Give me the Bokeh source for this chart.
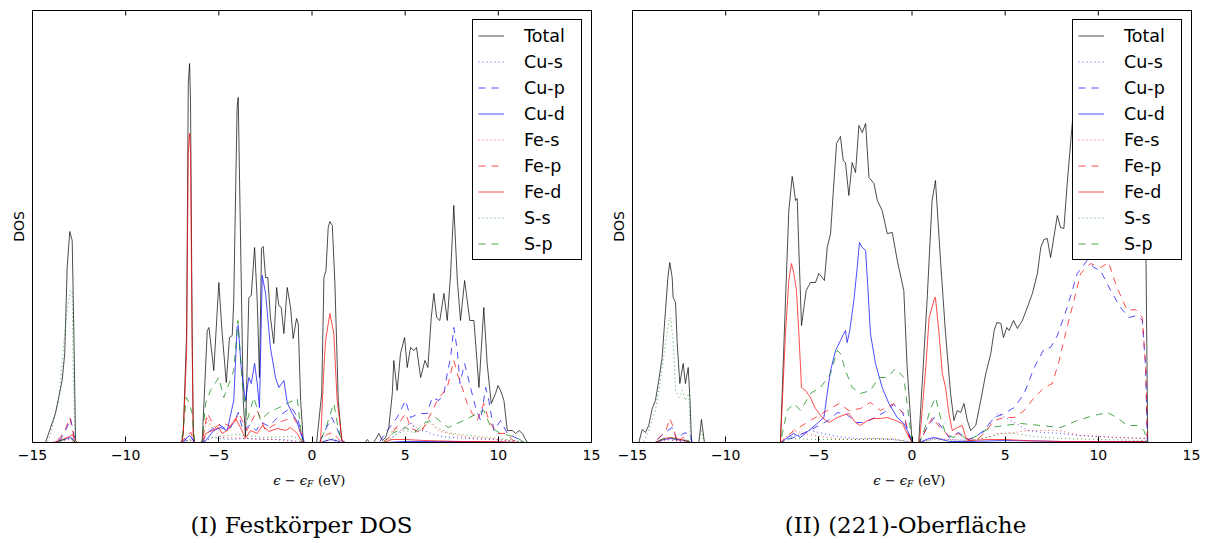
import math
from bokeh.plotting import figure
from bokeh.layouts import row, column
from bokeh.models import Range1d, FixedTicker, Label, Legend
from bokeh.embed import file_html
from bokeh.resources import INLINE

# ---------------- data (energy in eV, DOS in arbitrary units) ----------------
series_labels = ["Total", "Cu-s", "Cu-p", "Cu-d", "Fe-s", "Fe-p", "Fe-d", "S-s", "S-p"]
xtick_values = [-15, -10, -5, 0, 5, 10, 15]
xtick_labels = ["\u221215", "\u221210", "\u22125", "0", "5", "10", "15"]
captions = ["(I) Festk\u00f6rper DOS", "(II) (221)-Oberfl\u00e4che"]

# ---- (I) bulk ----
bulk_total = [(-15, 0), (-14.3, 0), (-13.77, 2.9), (-13.41, 6.2), (-13.27, 8.9), (-13.14, 17.5), (-13.0, 21.1),
              (-12.87, 20.2), (-12.78, 10.9), (-12.69, 0.2), (-12.6, 0), (-7.0, 0), (-6.91, 0.9), (-6.73, 10.9),
              (-6.64, 35.9), (-6.57, 37.9), (-6.52, 34.2), (-6.43, 10.9), (-6.37, 0.9), (-6.3, 0), (-5.95, 0),
              (-5.89, 0.2), (-5.62, 11.2), (-5.53, 11.5), (-5.27, 7.2), (-5.0, 16.0), (-4.82, 10.9), (-4.6, 6.0),
              (-4.43, 10.5), (-4.28, 10.7), (-4.2, 14.2), (-4.02, 33.5), (-3.96, 34.5), (-3.84, 20.9), (-3.69, 4.2),
              (-3.57, 0.6), (-3.39, 14.5), (-3.26, 14.7), (-3.08, 19.5), (-2.94, 14.2), (-2.82, 6.5), (-2.71, 19.4),
              (-2.62, 19.6), (-2.49, 16.5), (-2.37, 16.5), (-2.23, 12.5), (-2.05, 9.9), (-1.9, 15.5), (-1.78, 13.7),
              (-1.65, 13.5), (-1.51, 10.9), (-1.33, 15.5), (-1.15, 13.5), (-1.01, 10.4), (-0.83, 12.4), (-0.74, 11.9),
              (-0.61, 4.2), (-0.47, 0.2), (-0.4, 0), (0.25, 0), (0.52, 4.9), (0.64, 16.5), (0.75, 17.2), (0.87, 21.5),
              (0.96, 22.1), (1.09, 21.7), (1.23, 15.9), (1.41, 4.2), (1.59, 0.2), (1.7, 0), (2.85, 0), (2.97, 0.3),
              (3.1, 0), (3.3, 0), (3.41, 0.3), (3.59, 0.9), (3.77, 0.2), (3.95, 0.5), (4.12, 1.5), (4.31, 4.9),
              (4.39, 8.2), (4.57, 5.2), (4.75, 8.9), (4.97, 10.5), (5.11, 7.5), (5.29, 9.5), (5.47, 9.2), (5.61, 9.5),
              (5.83, 6.5), (6.06, 8.2), (6.22, 7.5), (6.4, 12.5), (6.54, 14.9), (6.69, 12.5), (6.86, 12.2), (7.08, 14.9),
              (7.26, 12.2), (7.44, 16.9), (7.61, 23.7), (7.8, 16.2), (7.97, 12.2), (8.19, 16.2), (8.33, 14.2),
              (8.47, 12.2), (8.69, 12.2), (8.96, 5.5), (9.22, 13.5), (9.4, 7.9), (9.62, 3.9), (9.85, 4.9), (9.98, 5.7),
              (10.12, 5.2), (10.3, 4.2), (10.48, 1.2), (10.75, 1.2), (10.93, 0.9), (11.11, 1.2), (11.29, 0.9),
              (11.55, 0), (15, 0)]
bulk_cu_s = [(-15, 0), (-13.8, 0), (-13.2, 0.3), (-12.9, 0.4), (-12.7, 0), (-6.9, 0), (-6.6, 0.3), (-6.3, 0),
             (-5.9, 0), (-5.3, 0.5), (-4.5, 0.3), (-3.5, 0.4), (-2.5, 0.3), (-1.5, 0.3), (-0.4, 0), (0.5, 0),
             (1.0, 0.3), (1.5, 0), (4.0, 0), (4.5, 0.8), (5.0, 1.5), (5.3, 2.0), (5.6, 1.1), (6.0, 1.2), (6.5, 0.8),
             (7.0, 0.6), (7.5, 0.5), (8.5, 0.4), (9.5, 0.3), (10.5, 0.2), (11.5, 0), (15, 0)]
bulk_cu_p = [(-15, 0), (-13.9, 0), (-13.5, 0.3), (-13.15, 1.5), (-12.96, 2.4), (-12.8, 1.0), (-12.7, 0), (-7.0, 0),
             (-6.7, 0.5), (-6.5, 0.6), (-6.3, 0), (-5.9, 0), (-5.6, 1.0), (-5.0, 1.8), (-4.5, 1.2), (-4.2, 2.0),
             (-3.96, 3.0), (-3.7, 1.2), (-3.3, 1.8), (-3.0, 1.2), (-2.7, 2.0), (-2.3, 1.6), (-1.9, 2.4), (-1.5, 3.0),
             (-1.1, 3.5), (-0.8, 2.6), (-0.5, 0.5), (-0.4, 0), (0.4, 0), (0.7, 1.2), (1.06, 2.5), (1.3, 1.6),
             (1.6, 0.2), (1.8, 0), (3.6, 0), (4.04, 1.2), (4.57, 2.5), (5.02, 4.2), (5.29, 2.5), (5.73, 2.9),
             (6.18, 2.9), (6.45, 4.5), (6.81, 4.2), (7.08, 4.9), (7.26, 6.9), (7.44, 8.5), (7.61, 11.5), (7.8, 9.2),
             (7.94, 5.9), (8.19, 7.9), (8.51, 5.5), (8.78, 3.5), (9.05, 2.2), (9.32, 5.5), (9.49, 4.2), (9.76, 1.2),
             (10.12, 2.2), (10.48, 0.9), (11.02, 0.4), (11.4, 0), (15, 0)]
bulk_cu_d = [(-15, 0), (-13.8, 0), (-13.3, 0.3), (-13.0, 0.5), (-12.85, 0.4), (-12.7, 0), (-6.9, 0), (-6.7, 0.5),
             (-6.55, 0.7), (-6.4, 0.3), (-6.3, 0), (-5.9, 0), (-5.7, 0.2), (-5.27, 1.2), (-4.9, 1.5), (-4.55, 1.2),
             (-4.2, 4.2), (-4.02, 11.5), (-3.96, 11.7), (-3.8, 7.5), (-3.57, 4.2), (-3.39, 6.5), (-3.26, 5.9),
             (-3.08, 7.9), (-2.94, 5.9), (-2.82, 3.5), (-2.67, 16.7), (-2.49, 14.9), (-2.23, 9.5), (-1.96, 6.5),
             (-1.78, 5.5), (-1.51, 6.2), (-1.33, 4.0), (-1.06, 2.9), (-0.83, 2.2), (-0.61, 0.9), (-0.4, 0), (0.5, 0),
             (0.8, 0.2), (1.0, 0.3), (1.3, 0.2), (1.6, 0), (4.0, 0), (5.0, 0.1), (8.0, 0.1), (11.0, 0), (15, 0)]
bulk_fe_s = [(-15, 0), (-13.8, 0), (-13.1, 0.3), (-12.7, 0), (-6.9, 0), (-6.6, 0.3), (-6.3, 0), (-5.9, 0),
             (-5.62, 2.5), (-5.3, 1.2), (-4.8, 0.5), (-3.5, 0.4), (-2.0, 0.3), (-0.4, 0), (0.5, 0), (1.0, 0.3),
             (1.5, 0), (4.0, 0), (4.4, 1.5), (4.8, 1.2), (5.3, 1.9), (5.8, 1.2), (6.3, 2.0), (6.8, 1.2), (7.5, 0.8),
             (8.5, 0.5), (9.5, 0.4), (10.5, 0.2), (11.5, 0), (15, 0)]
bulk_fe_p = [(-15, 0), (-13.9, 0), (-13.5, 0.5), (-13.2, 1.5), (-13.0, 2.5), (-12.85, 1.2), (-12.7, 0), (-7.0, 0),
             (-6.7, 0.8), (-6.5, 1.0), (-6.3, 0), (-5.9, 0), (-5.62, 2.9), (-5.2, 1.5), (-4.8, 2.0), (-4.3, 1.5),
             (-3.92, 2.9), (-3.5, 1.2), (-2.94, 3.2), (-2.5, 1.2), (-2.0, 1.8), (-1.51, 2.2), (-0.97, 2.5),
             (-0.6, 1.0), (-0.45, 0), (0.4, 0), (0.8, 0.8), (1.1, 1.0), (1.4, 0.4), (1.6, 0), (3.8, 0), (4.2, 0.6),
             (4.66, 1.9), (5.02, 2.9), (5.29, 1.5), (5.83, 0.9), (6.27, 2.5), (6.72, 4.2), (7.26, 5.5), (7.61, 8.2),
             (7.8, 6.9), (8.06, 5.5), (8.33, 3.9), (8.6, 2.9), (8.87, 2.2), (9.22, 3.9), (9.49, 2.2), (9.94, 0.9),
             (10.4, 0.9), (10.8, 0.2), (11.2, 0), (15, 0)]
bulk_fe_d = [(-15, 0), (-13.9, 0), (-13.4, 0.3), (-13.0, 0.6), (-12.85, 0.8), (-12.7, 0), (-7.0, 0), (-6.91, 0.8),
             (-6.73, 9.0), (-6.64, 29.0), (-6.57, 30.9), (-6.52, 29.0), (-6.43, 9.0), (-6.37, 0.8), (-6.3, 0),
             (-5.9, 0), (-5.7, 0.9), (-5.0, 1.5), (-4.82, 0.9), (-4.55, 1.2), (-4.1, 2.4), (-3.84, 1.5),
             (-3.57, 0.4), (-3.3, 1.2), (-2.94, 0.9), (-2.67, 1.7), (-2.31, 1.1), (-1.87, 1.4), (-1.42, 1.2),
             (-1.15, 1.5), (-0.79, 0.9), (-0.52, 0), (0.46, 0), (0.64, 7.5), (0.73, 10.2), (0.96, 12.9),
             (1.17, 10.9), (1.35, 4.2), (1.62, 0.2), (1.8, 0), (3.8, 0), (4.3, 0.3), (5.0, 0.3), (6.0, 0.2),
             (8.0, 0.1), (10.0, 0.1), (11.0, 0), (15, 0)]
bulk_s_s = [(-15, 0), (-14.2, 0), (-14.03, 0.9), (-13.59, 4.2), (-13.32, 9.9), (-13.14, 13.2), (-12.96, 15.2),
            (-12.87, 15.1), (-12.82, 7.5), (-12.7, 0.2), (-12.6, 0), (-7.0, 0), (-6.6, 0.3), (-6.3, 0), (-5.9, 0),
            (-5.5, 0.5), (-4.0, 0.8), (-2.5, 0.5), (-1.0, 0.6), (-0.4, 0), (0.5, 0), (1.0, 0.5), (1.5, 0), (4.0, 0),
            (4.5, 0.8), (5.0, 1.2), (5.5, 1.0), (6.0, 1.5), (6.3, 2.2), (6.7, 1.5), (7.3, 1.0), (8.0, 0.8),
            (9.0, 0.6), (10.0, 0.4), (11.0, 0.2), (11.5, 0), (15, 0)]
bulk_s_p = [(-15, 0), (-13.9, 0), (-13.3, 0.3), (-13.0, 0.5), (-12.7, 0), (-7.0, 0), (-6.85, 2.5), (-6.75, 4.5),
            (-6.6, 4.0), (-6.43, 2.9), (-6.3, 0), (-5.9, 0), (-5.71, 3.9), (-5.45, 5.2), (-5.0, 6.5), (-4.73, 4.5),
            (-4.2, 7.2), (-3.98, 12.2), (-3.74, 5.9), (-3.48, 2.2), (-3.12, 4.5), (-2.76, 2.2), (-2.4, 2.9),
            (-1.87, 3.4), (-1.33, 3.9), (-0.79, 4.4), (-0.52, 0), (0.4, 0), (0.7, 1.2), (0.87, 2.2), (1.17, 3.9),
            (1.4, 1.5), (1.6, 0), (3.8, 0), (4.3, 0.9), (5.0, 1.5), (5.5, 1.0), (6.0, 1.9), (6.63, 2.5), (7.3, 1.5),
            (8.15, 2.2), (8.87, 2.9), (9.22, 3.2), (9.6, 1.5), (10.12, 0.9), (11.0, 0.5), (11.4, 0), (15, 0)]

# ---- (II) (221) surface ----
surf_total = [(-15, 0), (-14.66, 0), (-14.48, 1.3), (-14.3, 1.0), (-14.13, 1.7), (-13.94, 3.4), (-13.77, 4.2),
              (-13.59, 6.2), (-13.41, 8.5), (-13.23, 13.2), (-13.1, 16.5), (-13.0, 18.0), (-12.87, 16.5),
              (-12.82, 14.5), (-12.69, 14.0), (-12.6, 9.9), (-12.46, 5.9), (-12.28, 7.9), (-12.16, 5.9),
              (-12.01, 7.5), (-11.92, 4.5), (-11.83, 0), (-11.44, 0), (-11.3, 2.3), (-11.14, 0), (-7.06, 0),
              (-6.79, 14.2), (-6.61, 23.2), (-6.43, 26.6), (-6.34, 25.5), (-6.25, 24.2), (-6.16, 24.4), (-6.07, 19.2),
              (-5.93, 11.7), (-5.8, 13.5), (-5.68, 15.2), (-5.45, 16.0), (-5.18, 16.0), (-5.0, 16.9), (-4.82, 16.5),
              (-4.7, 16.2), (-4.55, 19.5), (-4.37, 20.9), (-4.23, 24.9), (-4.05, 29.9), (-3.84, 30.6), (-3.69, 28.2),
              (-3.57, 28.0), (-3.39, 24.7), (-3.21, 28.0), (-3.03, 27.0), (-2.85, 31.7), (-2.67, 31.0), (-2.49, 31.9),
              (-2.31, 26.5), (-2.04, 25.9), (-1.86, 24.2), (-1.6, 23.2), (-1.33, 20.9), (-1.06, 21.0), (-0.79, 18.2),
              (-0.44, 15.2), (-0.26, 7.5), (0.01, 0), (0.36, 0), (0.81, 14.2), (1.08, 24.2), (1.26, 26.2),
              (1.53, 18.2), (1.8, 10.9), (2.07, 4.9), (2.25, 2.2), (2.43, 3.2), (2.61, 3.0), (2.79, 3.9), (2.97, 2.2),
              (3.15, 1.2), (3.42, 1.7), (3.69, 4.2), (3.96, 6.9), (4.23, 8.9), (4.41, 11.2), (4.55, 12.0),
              (4.77, 11.9), (4.91, 10.5), (5.09, 11.5), (5.21, 11.2), (5.45, 12.2), (5.66, 11.4), (5.92, 12.2),
              (6.19, 13.5), (6.46, 14.9), (6.73, 16.9), (6.91, 19.5), (7.08, 20.3), (7.26, 20.4), (7.44, 18.5),
              (7.8, 22.7), (7.97, 21.5), (8.15, 21.4), (8.33, 25.9), (8.51, 29.9), (8.66, 33.2), (9.0, 37.0),
              (9.5, 40.0), (10.0, 41.5), (10.5, 41.0), (11.0, 40.0), (11.5, 39.5), (12.0, 39.0), (12.45, 38.5),
              (12.55, 20.0), (12.65, 0), (15, 0)]
surf_cu_s = [(-15, 0), (-13.8, 0), (-13.2, 0.3), (-12.8, 0.2), (-11.9, 0), (-7.06, 0), (-6.6, 0.5), (-6.0, 0.8),
             (-5.5, 1.2), (-5.0, 1.0), (-4.5, 0.8), (-4.0, 0.6), (-3.0, 0.4), (-2.0, 0.4), (-1.0, 0.3), (0.01, 0),
             (0.4, 0), (1.2, 0.4), (2.0, 0.3), (3.0, 0.2), (3.8, 1.0), (4.3, 2.2), (4.6, 2.9), (5.0, 2.5),
             (5.5, 2.0), (6.2, 1.2), (7.0, 1.0), (8.0, 0.9), (9.0, 0.7), (10.0, 0.6), (11.0, 0.5), (12.5, 0.4),
             (12.65, 0), (15, 0)]
surf_cu_p = [(-15, 0), (-13.9, 0), (-13.6, 0.4), (-13.32, 0.9), (-12.87, 1.5), (-12.6, 0.2), (-12.3, 0.9),
             (-11.92, 1.0), (-11.8, 0), (-7.06, 0), (-6.7, 0.3), (-6.34, 0.5), (-5.5, 1.2), (-4.5, 2.2), (-4.0, 3.0),
             (-3.5, 2.8), (-3.0, 2.0), (-2.5, 2.0), (-2.0, 2.5), (-1.5, 3.0), (-1.0, 3.8), (-0.5, 3.0), (-0.2, 1.0),
             (0.01, 0), (0.4, 0), (0.8, 1.5), (1.2, 2.5), (1.6, 1.5), (2.0, 0.5), (2.5, 1.0), (3.0, 0.3),
             (3.33, 0.5), (3.87, 1.2), (4.41, 2.5), (4.95, 2.9), (5.49, 3.5), (6.02, 4.9), (6.56, 7.5), (7.1, 9.4),
             (7.44, 9.5), (7.8, 10.7), (8.33, 13.5), (8.87, 16.9), (9.4, 18.2), (9.76, 17.5), (10.12, 17.2),
             (10.66, 15.2), (11.19, 13.5), (11.64, 12.5), (12.09, 12.7), (12.36, 12.2), (12.54, 7.5), (12.63, 0.2),
             (12.7, 0), (15, 0)]
surf_cu_d = [(-15, 0), (-13.8, 0), (-13.3, 0.3), (-13.0, 0.4), (-12.6, 0.3), (-12.2, 0.2), (-11.9, 0), (-7.0, 0),
             (-6.7, 0.5), (-6.34, 0.9), (-5.98, 0.5), (-5.54, 1.2), (-5.09, 1.9), (-4.73, 2.5), (-4.55, 4.9),
             (-4.37, 7.2), (-4.1, 9.2), (-3.84, 10.2), (-3.66, 10.9), (-3.57, 11.2), (-3.48, 10.0), (-3.34, 11.2),
             (-3.12, 14.2), (-2.94, 17.5), (-2.82, 20.0), (-2.67, 19.5), (-2.49, 19.2), (-2.37, 15.5), (-2.23, 10.9),
             (-1.96, 7.9), (-1.6, 5.5), (-1.24, 3.9), (-0.79, 2.5), (-0.44, 1.9), (-0.17, 0.9), (0.01, 0), (0.4, 0),
             (0.9, 0.4), (1.2, 0.5), (1.6, 0.3), (2.0, 0.1), (3.0, 0.1), (5.0, 0.2), (8.0, 0.1), (12.5, 0.1),
             (12.65, 0), (15, 0)]
surf_fe_s = [(-15, 0), (-13.8, 0), (-13.1, 0.3), (-12.7, 0.2), (-11.9, 0), (-7.06, 0), (-6.6, 0.8), (-6.3, 1.2),
             (-5.8, 0.9), (-5.0, 0.6), (-4.0, 0.4), (-3.0, 0.3), (-2.0, 0.4), (-1.0, 0.4), (0.01, 0), (0.4, 0),
             (1.2, 0.4), (2.0, 0.3), (3.0, 0.2), (4.0, 0.5), (4.6, 0.9), (5.5, 1.0), (6.2, 1.2), (7.0, 1.2),
             (7.9, 1.2), (9.0, 0.7), (10.0, 0.6), (11.0, 0.5), (12.5, 0.4), (12.65, 0), (15, 0)]
surf_fe_p = [(-15, 0), (-13.9, 0), (-13.5, 0.6), (-13.2, 1.2), (-13.0, 2.4), (-12.8, 1.5), (-12.6, 0), (-12.3, 0.5),
             (-12.0, 0.3), (-11.9, 0), (-7.06, 0), (-6.7, 0.6), (-6.34, 1.2), (-5.45, 2.2), (-4.55, 3.2), (-3.92, 3.9),
             (-3.39, 3.2), (-2.76, 3.4), (-2.23, 4.0), (-1.69, 3.2), (-0.97, 3.9), (-0.44, 2.9), (-0.15, 0.5),
             (0.01, 0), (0.4, 0), (0.8, 1.5), (1.1, 2.5), (1.5, 1.5), (2.0, 0.6), (2.5, 0.9), (3.0, 0.2), (3.5, 0.3),
             (3.87, 0.9), (4.41, 2.2), (4.95, 2.5), (5.49, 2.5), (6.02, 3.2), (6.56, 4.5), (7.1, 5.5), (7.53, 5.9),
             (7.9, 8.2), (8.24, 10.9), (8.69, 14.2), (9.05, 16.9), (9.58, 17.9), (10.12, 17.5), (10.55, 18.0),
             (11.0, 15.5), (11.55, 13.2), (11.99, 13.3), (12.36, 12.5), (12.54, 7.5), (12.63, 0.2), (12.7, 0), (15, 0)]
surf_fe_d = [(-15, 0), (-13.8, 0), (-13.3, 0.4), (-13.0, 0.5), (-12.6, 0.4), (-12.2, 0.2), (-11.9, 0), (-7.06, 0),
             (-6.79, 10.9), (-6.61, 16.2), (-6.47, 17.9), (-6.34, 16.9), (-6.2, 15.2), (-6.07, 10.9), (-5.93, 5.5),
             (-5.72, 5.2), (-5.45, 4.5), (-5.18, 3.4), (-4.82, 2.5), (-4.46, 2.0), (-4.1, 2.4), (-3.74, 2.7),
             (-3.39, 2.9), (-3.03, 2.0), (-2.76, 1.7), (-2.4, 2.2), (-2.04, 2.4), (-1.69, 2.4), (-1.33, 2.5),
             (-0.88, 2.2), (-0.52, 1.9), (-0.26, 0.9), (0.01, 0), (0.4, 0), (0.74, 7.5), (0.92, 12.5), (1.22, 14.5),
             (1.26, 14.5), (1.45, 10.9), (1.63, 6.9), (1.8, 5.5), (1.98, 2.9), (2.16, 1.2), (2.43, 1.5), (2.7, 1.7),
             (2.88, 0.5), (3.15, 0.2), (4.0, 0.3), (5.0, 0.3), (6.0, 0.2), (8.0, 0.1), (10.0, 0.1), (12.5, 0.1),
             (12.65, 0), (15, 0)]
surf_s_s = [(-15, 0), (-14.4, 0), (-14.13, 1.2), (-13.77, 3.2), (-13.5, 6.2), (-13.23, 9.9), (-13.05, 12.2),
            (-12.96, 12.5), (-12.82, 10.2), (-12.69, 5.2), (-12.51, 4.5), (-12.33, 5.2), (-12.16, 4.2),
            (-11.97, 4.9), (-11.88, 0), (-11.45, 0), (-11.3, 1.2), (-11.15, 0), (-7.06, 0), (-6.5, 0.4), (-5.0, 0.3),
            (-3.0, 0.3), (-1.0, 0.3), (0.01, 0), (0.4, 0), (1.2, 0.3), (2.0, 0.2), (3.0, 0.1), (4.0, 0.5),
            (4.8, 0.9), (5.5, 0.9), (6.5, 0.6), (8.0, 0.4), (10.0, 0.3), (12.5, 0.2), (12.65, 0), (15, 0)]
surf_s_p = [(-15, 0), (-13.9, 0), (-13.3, 0.4), (-13.0, 0.5), (-12.6, 0.3), (-12.0, 0.2), (-11.9, 0), (-7.06, 0),
            (-6.7, 3.2), (-6.34, 3.9), (-5.98, 3.2), (-5.45, 4.9), (-4.91, 5.5), (-4.37, 6.9), (-4.01, 9.2),
            (-3.84, 8.9), (-3.57, 7.2), (-3.21, 5.5), (-2.76, 4.9), (-2.23, 5.2), (-1.78, 6.5), (-1.33, 6.5),
            (-0.88, 7.4), (-0.44, 6.5), (-0.17, 2.5), (0.01, 0), (0.4, 0), (0.7, 1.5), (1.0, 3.4), (1.26, 4.5),
            (1.53, 2.5), (1.8, 0.9), (2.2, 0.5), (2.6, 0.8), (3.0, 0.2), (3.3, 0.5), (4.23, 1.5), (4.95, 1.7),
            (5.83, 1.9), (6.9, 1.7), (7.97, 1.5), (8.87, 2.2), (9.76, 2.7), (10.48, 3.0), (11.0, 2.5), (11.55, 1.7),
            (12.09, 1.7), (12.45, 1.2), (12.63, 0.2), (12.7, 0), (15, 0)]

bulk_series = [bulk_total, bulk_cu_s, bulk_cu_p, bulk_cu_d, bulk_fe_s, bulk_fe_p, bulk_fe_d, bulk_s_s, bulk_s_p]
surf_series = [surf_total, surf_cu_s, surf_cu_p, surf_cu_d, surf_fe_s, surf_fe_p, surf_fe_d, surf_s_s, surf_s_p]

# ---------------- styles ----------------
styles = [("black", "solid"), ("blue", "1 3"), ("blue", "7 6"), ("blue", "solid"),
          ("red", "1 3"), ("red", "7 6"), ("red", "solid"),
          ("green", "1 3"), ("green", "7 6")]

TICK_FONT = "DejaVu Sans"
Y_MAX = 43.2


def make_panel(series, width, border_left, border_right):
    p = figure(width=width, height=465, x_range=Range1d(-15, 15), y_range=Range1d(0, Y_MAX),
               output_backend="svg", toolbar_location=None,
               min_border_left=border_left, min_border_right=border_right,
               min_border_top=10, min_border_bottom=23)
    p.background_fill_color = "white"
    p.border_fill_color = "white"
    p.grid.visible = False
    p.outline_line_color = "black"
    p.outline_line_alpha = 1.0
    p.outline_line_width = 1

    # bottom axis
    xa = p.xaxis[0]
    xa.ticker = FixedTicker(ticks=xtick_values)
    xa.major_label_overrides = {float(v): s for v, s in zip(xtick_values, xtick_labels)}
    xa.major_tick_in = 6
    xa.major_tick_out = 0
    xa.minor_tick_in = 0
    xa.minor_tick_out = 0
    xa.major_label_standoff = 7
    xa.major_label_text_font = TICK_FONT
    xa.major_label_text_font_size = "14px"
    xa.major_label_text_color = "black"
    xa.axis_line_color = "black"
    xa.major_tick_line_color = "black"

    # left axis: only the label
    ya = p.yaxis[0]
    ya.ticker = FixedTicker(ticks=[])
    ya.major_tick_in = 0
    ya.major_tick_out = 0
    ya.minor_tick_in = 0
    ya.minor_tick_out = 0
    ya.axis_label = "DOS"
    ya.axis_label_text_font = TICK_FONT
    ya.axis_label_text_font_size = "14px"
    ya.axis_label_text_font_style = "normal"
    ya.axis_label_text_color = "black"
    ya.axis_label_standoff = 6
    ya.axis_line_color = "black"

    # inward tick marks along the top edge (matplotlib classic style)
    p.ray(x=xtick_values, y=[Y_MAX] * len(xtick_values), length=5, length_units="screen",
          angle=-math.pi / 2, line_color="black", line_width=1)

    items = []
    for label, pts, (color, dash) in zip(series_labels, series, styles):
        xs = [e for e, _ in pts]
        ys = [d for _, d in pts]
        r = p.line(xs, ys, line_color=color, line_alpha=0.7, line_width=1, line_dash=dash)
        items.append((label, [r]))

    legend = Legend(items=items, location="top_right")
    legend.margin = 9
    legend.padding = 5
    legend.spacing = 5
    legend.glyph_width = 26
    legend.glyph_height = 21
    legend.label_height = 21
    legend.label_width = 52
    legend.label_standoff = 20
    legend.label_text_font = TICK_FONT
    legend.label_text_font_size = "17.5px"
    legend.label_text_color = "black"
    legend.border_line_color = "black"
    legend.border_line_width = 1
    legend.border_line_alpha = 1.0
    legend.background_fill_color = "white"
    legend.background_fill_alpha = 1.0
    p.add_layout(legend, "center")
    return p


p1 = make_panel(bulk_series, 602, 32, 11)
p2 = make_panel(surf_series, 603, 30, 14)

# strip below the panels holding the axis titles and the sub-captions
cap = figure(width=1205, height=78, x_range=Range1d(0, 1205), y_range=Range1d(0, 78),
             x_axis_type=None, y_axis_type=None, output_backend="svg", toolbar_location=None,
             min_border=0)
cap.outline_line_color = None
cap.background_fill_color = "white"
cap.border_fill_color = "white"

zero_px = [311.5, 911.5]     # screen x of E = 0 in each panel
caption_px = [301, 905]      # screen x of each sub-caption centre
for zx, cx, text in zip(zero_px, caption_px, captions):
    cap.add_layout(Label(x=zx - 5, y=63, x_units="screen", y_units="screen", text="\u03f5 \u2212 \u03f5",
                         text_align="right", text_baseline="alphabetic",
                         text_font="DejaVu Serif", text_font_size="13px", text_font_style="italic",
                         text_color="black"))
    cap.add_layout(Label(x=zx - 5, y=60, x_units="screen", y_units="screen", text="F",
                         text_align="left", text_baseline="alphabetic",
                         text_font="DejaVu Serif", text_font_size="9px", text_font_style="italic",
                         text_color="black"))
    cap.add_layout(Label(x=zx + 6, y=63, x_units="screen", y_units="screen", text="(eV)",
                         text_align="left", text_baseline="alphabetic",
                         text_font="DejaVu Serif", text_font_size="13px",
                         text_color="black"))
    cap.add_layout(Label(x=cx, y=19, x_units="screen", y_units="screen", text=text,
                         text_align="center", text_baseline="middle",
                         text_font="DejaVu Serif", text_font_size="23px", text_color="black"))

layout = column(row(p1, p2), cap)

open("out.html", "w").write(file_html(layout, INLINE))
